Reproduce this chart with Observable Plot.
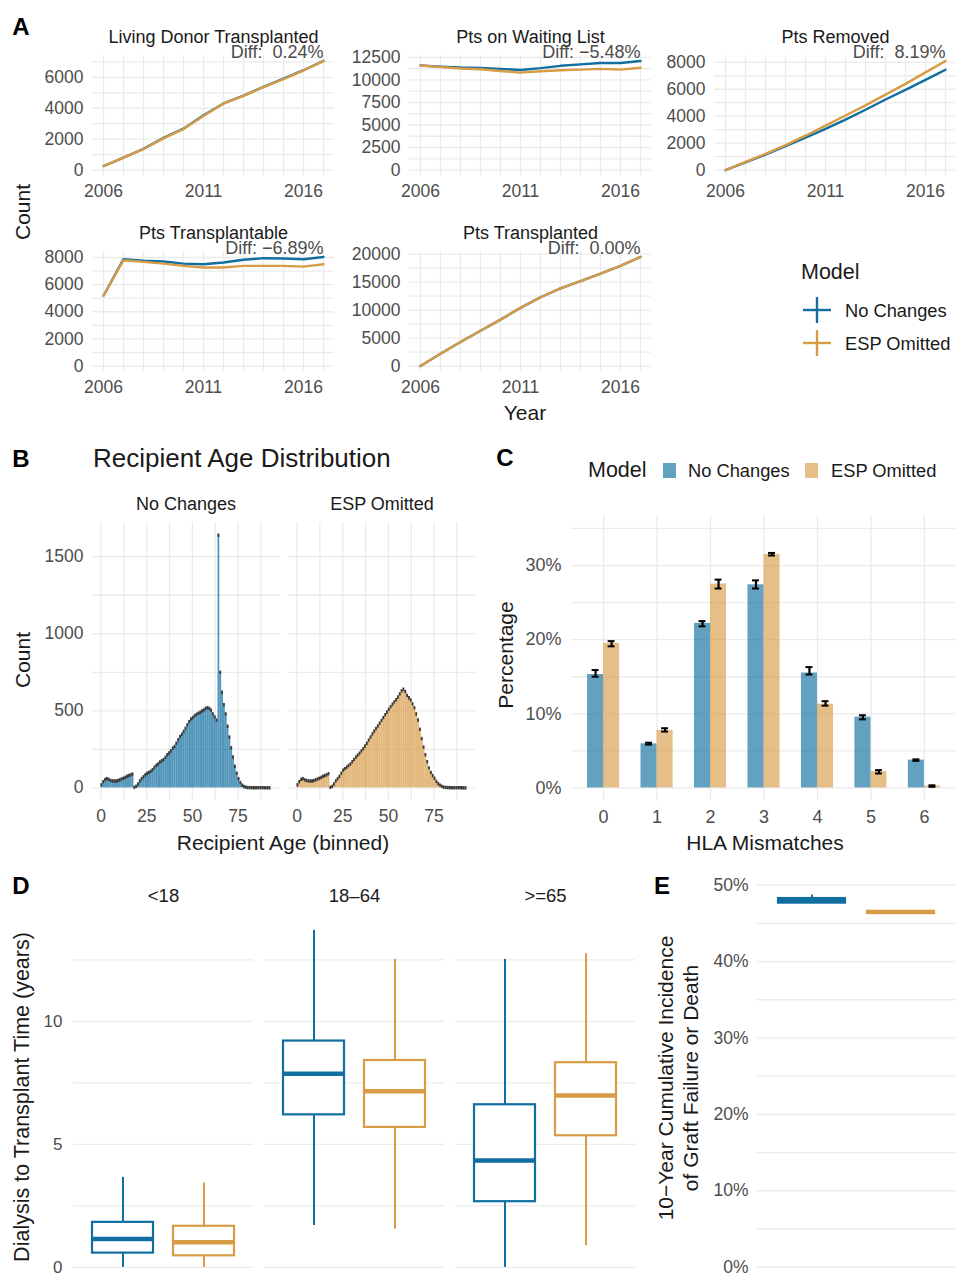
<!DOCTYPE html>
<html><head><meta charset="utf-8">
<script src="https://cdn.jsdelivr.net/npm/d3@7"></script>
<script src="https://cdn.jsdelivr.net/npm/@observablehq/plot@0.6"></script>
<style>
body{margin:0;background:#fff;}
#fig{position:relative;width:955px;height:1275px;overflow:hidden;background:#fff;}
</style></head><body><div id="fig"></div>
<script>
// ---------------- DATA ----------------
const models = ["No Changes", "ESP Omitted"];
const years = [2006, 2007, 2008, 2009, 2010, 2011, 2012, 2013, 2014, 2015, 2016, 2017];
const yearTicks = [2006, 2011, 2016];

const livingNoChanges = [260, 810, 1370, 2080, 2680, 3550, 4310, 4820, 5380, 5920, 6460, 7060];
const livingEspOmitted = [260, 810, 1360, 2050, 2650, 3500, 4300, 4800, 5370, 5890, 6440, 7050];
const waitNoChanges = [11600, 11480, 11380, 11340, 11230, 11110, 11310, 11570, 11730, 11880, 11880, 12110];
const waitEspOmitted = [11600, 11420, 11270, 11190, 11000, 10810, 10960, 11080, 11150, 11230, 11150, 11350];
const removedNoChanges = [0, 570, 1150, 1780, 2400, 3060, 3750, 4480, 5240, 5950, 6700, 7450];
const removedEspOmitted = [0, 600, 1200, 1850, 2550, 3300, 4050, 4800, 5600, 6400, 7250, 8100];
const transplantableNoChanges = [5180, 7880, 7760, 7700, 7550, 7500, 7630, 7830, 7950, 7930, 7870, 8040];
const transplantableEspOmitted = [5180, 7800, 7680, 7550, 7380, 7260, 7260, 7380, 7380, 7380, 7330, 7500];
const transplantedNoChanges = [0, 2200, 4300, 6300, 8300, 10400, 12300, 13900, 15200, 16500, 17900, 19500];
const transplantedEspOmitted = [0, 2200, 4300, 6300, 8300, 10400, 12300, 13900, 15200, 16500, 17900, 19500];

const panelTitles = ["Living Donor Transplanted", "Pts on Waiting List", "Pts Removed", "Pts Transplantable", "Pts Transplanted"];
const panelDiffs = ["Diff:  0.24%", "Diff: \u22125.48%", "Diff:  8.19%", "Diff: \u22126.89%", "Diff:  0.00%"];
const ticksLiving = [0, 2000, 4000, 6000];
const ticksWait = [0, 2500, 5000, 7500, 10000, 12500];
const ticksRemoved = [0, 2000, 4000, 6000, 8000];
const ticksTransplantable = [0, 2000, 4000, 6000, 8000];
const ticksTransplanted = [0, 5000, 10000, 15000, 20000];

// Panel B: recipient age histogram (1-year bins starting at age)
const ageBins = d3.range(0, 93);
const ageNoChanges = [20,40,55,60,55,48,45,45,45,48,52,58,62,68,75,80,85,90,3,10,25,45,60,72,85,95,100,108,118,133,146,155,168,176,183,198,215,226,240,258,269,290,312,333,348,366,387,409,430,447,456,469,477,484,490,499,505,516,520,516,505,480,460,440,1640,750,620,540,480,400,330,260,200,140,95,60,35,18,9,4,2,2,1,1,1,1,1,1,1,1,0,1,0];
const ageEspOmitted = [20,40,55,60,52,48,45,45,45,48,52,58,62,68,75,80,85,92,3,10,25,45,60,75,95,115,125,135,145,155,170,185,200,212,225,240,255,272,290,310,330,350,368,385,402,420,438,456,475,492,510,527,543,558,572,590,610,630,640,625,600,585,570,545,520,480,440,380,320,265,215,170,130,100,80,62,42,28,18,10,5,3,2,2,1,1,1,1,1,1,1,0,0];
const ageTicks = [0, 25, 50, 75];
const countTicks = [0, 500, 1000, 1500];

// Panel C: HLA mismatches (%)
const hlaCats = [0, 1, 2, 3, 4, 5, 6];
const hlaNoChanges = [15.3, 5.95, 22.2, 27.4, 15.5, 9.55, 3.75];
const hlaNoChangesLow = [15.0, 5.85, 21.8, 26.9, 15.3, 9.25, 3.65];
const hlaNoChangesHigh = [15.9, 6.1, 22.5, 28.0, 16.3, 9.8, 3.85];
const hlaEspOmitted = [19.5, 7.75, 27.5, 31.5, 11.3, 2.2, 0.25];
const hlaEspOmittedLow = [19.1, 7.6, 26.9, 31.35, 11.1, 1.95, 0.15];
const hlaEspOmittedHigh = [19.8, 8.05, 28.1, 31.7, 11.7, 2.4, 0.35];
const pctTicksC = [0, 10, 20, 30];

// Panel D: dialysis to transplant time boxplots (years)
const ageGroups = ["<18", "18\u201364", ">=65"];
const dNoLow = [0, 1.7, 0], dNoQ1 = [0.58, 6.2, 2.67], dNoMed = [1.15, 7.87, 4.34], dNoQ3 = [1.83, 9.2, 6.61], dNoHigh = [3.66, 13.7, 12.52];
const dEspLow = [0, 1.56, 0.88], dEspQ1 = [0.47, 5.69, 5.35], dEspMed = [1.02, 7.16, 6.99], dEspQ3 = [1.67, 8.41, 8.32], dEspHigh = [3.43, 12.52, 12.75];
const yearTicksD = [0, 5, 10];

// Panel E: 10-year cumulative incidence (%)
const eLow = [47.6, 46.25], eQ1 = [47.65, 46.28], eMed = [47.95, 46.43], eQ3 = [48.25, 46.58], eHigh = [48.7, 46.6];
const pctTicksE = [0, 10, 20, 30, 40, 50];

// ---------------- STYLE ----------------
const FONT = '"Liberation Sans", Arial, Helvetica, sans-serif';
const BLUE = "#106ea0", ORANGE = "#d89b46";
const GRID = "#ebebeb", TICK = "#4d4d4d", INK = "#1a1a1a";
const fig = document.getElementById("fig");
const baseStyle = (fs) => ({fontFamily: FONT, fontSize: fs + "px", color: TICK, background: "transparent", overflow: "visible"});
const expand = ([a, b], k = 0.05) => [a - (b - a) * k, b + (b - a) * k];
function place(svg, left, top) {
  svg.style.position = "absolute";
  svg.style.left = left + "px";
  svg.style.top = top + "px";
  svg.style.maxWidth = "none";
  fig.appendChild(svg);
}
const colorScale = {domain: models, range: [BLUE, ORANGE]};

// ---------------- PANEL A ----------------
const aSpecs = [
  {a: livingNoChanges, b: livingEspOmitted, ticks: ticksLiving, step: 1000, left: 92, top: 55},
  {a: waitNoChanges, b: waitEspOmitted, ticks: ticksWait, step: 1250, left: 409, top: 55},
  {a: removedNoChanges, b: removedEspOmitted, ticks: ticksRemoved, step: 1000, left: 714, top: 55},
  {a: transplantableNoChanges, b: transplantableEspOmitted, ticks: ticksTransplantable, step: 1000, left: 92, top: 251},
  {a: transplantedNoChanges, b: transplantedEspOmitted, ticks: ticksTransplanted, step: 2500, left: 409, top: 251},
];
aSpecs.forEach((p, k) => {
  const ML = 90, MR = 4, MT = 45, MB = 40, W = 242, H = 120;
  const rows = years.flatMap((yr, i) => [
    {year: yr, model: models[0], value: p.a[i]},
    {year: yr, model: models[1], value: p.b[i]}]);
  const max = d3.max(rows, d => d.value);
  const yDom = expand([0, max]);
  const grid = d3.range(0, yDom[1], p.step);
  const svg = Plot.plot({
    width: ML + W + MR, height: MT + H + MB,
    marginLeft: ML, marginRight: MR, marginTop: MT, marginBottom: MB,
    style: baseStyle(17.5),
    x: {domain: expand(d3.extent(years)), ticks: yearTicks, tickFormat: d3.format("d"), tickSize: 0, tickPadding: 9, label: null},
    y: {domain: yDom, ticks: p.ticks, tickFormat: d3.format("d"), tickSize: 0, tickPadding: 9, label: null},
    color: colorScale,
    marks: [
      Plot.ruleX(years, {stroke: GRID, strokeWidth: 1.3}),
      Plot.ruleY(grid, {stroke: GRID, strokeWidth: 1.3}),
      Plot.line(rows, {x: "year", y: "value", z: "model", stroke: "model", strokeWidth: 2.4}),
      Plot.text([panelTitles[k]], {frameAnchor: "top", dy: -25, fill: INK, fontSize: 18}),
      Plot.text([panelDiffs[k]], {x: () => years[years.length - 1], frameAnchor: "top", textAnchor: "end", dy: -10, fill: TICK, fontSize: 18})
    ]
  });
  place(svg, p.left - ML, p.top - MT);
});

// ---------------- PANEL B ----------------
{
  const ML = 80, MR = 0, MT = 45, MB = 40, W = 385, H = 278;
  const hist = [];
  ageBins.forEach((a, i) => {
    hist.push({age: a, model: models[0], count: ageNoChanges[i]});
    hist.push({age: a, model: models[1], count: ageEspOmitted[i]});
  });
  const maxC = d3.max(hist, d => d.count);
  const xDom = expand([0, 93]);
  const svg = Plot.plot({
    width: ML + W + MR, height: MT + H + MB,
    marginLeft: ML, marginRight: MR, marginTop: MT, marginBottom: MB,
    style: baseStyle(17.5),
    fx: {domain: models, paddingInner: 0.045, paddingOuter: 0, axis: "top", tickSize: 0, tickPadding: 13, label: null},
    x: {domain: xDom, ticks: ageTicks, tickSize: 0, tickPadding: 9, label: null},
    y: {domain: expand([0, maxC]), ticks: countTicks, tickFormat: d3.format("d"), tickSize: 0, tickPadding: 9, label: null},
    color: colorScale,
    marks: [
      Plot.ruleX(d3.range(0, 90, 12.5), {stroke: GRID, strokeWidth: 1.3}),
      Plot.ruleY(d3.range(0, 1501, 250), {stroke: GRID, strokeWidth: 1.3}),
      Plot.rect(hist, {fx: "model", x1: "age", x2: d => d.age + 1, y1: 0, y2: "count", fill: "model", fillOpacity: 0.72}),
      Plot.ruleY(hist, {fx: "model", y: "count", x1: "age", x2: d => d.age + 1, stroke: "#3a3a3a", strokeWidth: 3.4})
    ]
  });
  d3.select(svg).selectAll('[aria-label^="fx-axis"]').attr("fill", INK).style("font-size", "18px");
  place(svg, 90.5 - ML, 522 - MT);
}

// ---------------- PANEL C ----------------
{
  const ML = 80, MR = 0, MT = 20, MB = 40, W = 385, H = 285.4;
  const BW = 0.3;
  const rows = [];
  hlaCats.forEach((h, i) => {
    rows.push({hla: h, model: models[0], value: hlaNoChanges[i], lo: hlaNoChangesLow[i], hi: hlaNoChangesHigh[i]});
    rows.push({hla: h, model: models[1], value: hlaEspOmitted[i], lo: hlaEspOmittedLow[i], hi: hlaEspOmittedHigh[i]});
  });
  const isA = d => d.model === models[0];
  const cx = d => d.hla + (isA(d) ? -BW / 2 : BW / 2);
  const svg = Plot.plot({
    width: ML + W + MR, height: MT + H + MB,
    marginLeft: ML, marginRight: MR, marginTop: MT, marginBottom: MB,
    style: baseStyle(18),
    x: {domain: [-0.6, 6.6], ticks: hlaCats, tickFormat: d3.format("d"), tickSize: 0, tickPadding: 9, label: null},
    y: {domain: expand([0, 35]), ticks: pctTicksC, tickFormat: d => d + "%", tickSize: 0, tickPadding: 10, label: null},
    color: colorScale,
    marks: [
      Plot.ruleX(hlaCats, {stroke: GRID, strokeWidth: 1.3}),
      Plot.ruleY(d3.range(0, 36, 5), {stroke: GRID, strokeWidth: 1.3}),
      Plot.rect(rows, {x1: d => d.hla + (isA(d) ? -BW : 0), x2: d => d.hla + (isA(d) ? 0 : BW), y1: 0, y2: "value", fill: "model", fillOpacity: 0.65}),
      Plot.ruleX(rows, {x: cx, y1: "lo", y2: "hi", stroke: "black", strokeWidth: 2.2}),
      Plot.ruleY(rows, {y: "lo", x1: d => cx(d) - 0.065, x2: d => cx(d) + 0.065, stroke: "black", strokeWidth: 2}),
      Plot.ruleY(rows, {y: "hi", x1: d => cx(d) - 0.065, x2: d => cx(d) + 0.065, stroke: "black", strokeWidth: 2})
    ]
  });
  place(svg, 571 - ML, 514.6 - MT);
}

// ---------------- PANEL D ----------------
{
  const ML = 60, MR = 0, MT = 45, MB = 10;
  const rows = [];
  ageGroups.forEach((g, i) => {
    rows.push({age: g, model: models[0], lo: dNoLow[i], q1: dNoQ1[i], med: dNoMed[i], q3: dNoQ3[i], hi: dNoHigh[i]});
    rows.push({age: g, model: models[1], lo: dEspLow[i], q1: dEspQ1[i], med: dEspMed[i], q3: dEspQ3[i], hi: dEspHigh[i]});
  });
  const yDom = expand([0, d3.max(rows, d => d.hi)]);
  const pxPerUnit = 24.6;
  const H = (yDom[1] - yDom[0]) * pxPerUnit;
  const W = 563;
  const svg = Plot.plot({
    width: ML + W + MR, height: MT + H + MB,
    marginLeft: ML, marginRight: MR, marginTop: MT, marginBottom: MB,
    style: baseStyle(17),
    fx: {domain: ageGroups, paddingInner: 0.06, paddingOuter: 0, axis: "top", tickSize: 0, tickPadding: 11, label: null},
    x: {domain: models, paddingInner: 0.25, paddingOuter: 0.225, axis: null},
    y: {domain: yDom, ticks: yearTicksD, tickSize: 0, tickPadding: 11, label: null},
    color: colorScale,
    marks: [
      Plot.ruleY(d3.range(0, 13, 2.5), {stroke: GRID, strokeWidth: 1.3}),
      Plot.ruleX(rows, {fx: "age", x: "model", y1: "lo", y2: "q1", stroke: "model", strokeWidth: 2}),
      Plot.ruleX(rows, {fx: "age", x: "model", y1: "q3", y2: "hi", stroke: "model", strokeWidth: 2}),
      Plot.barY(rows, {fx: "age", x: "model", y1: "q1", y2: "q3", fill: "white", stroke: "model", strokeWidth: 2.2}),
      Plot.tickY(rows, {fx: "age", x: "model", y: "med", stroke: "model", strokeWidth: 4.5})
    ]
  });
  d3.select(svg).selectAll('[aria-label^="fx-axis"]').attr("fill", INK).style("font-size", "18.5px");
  const frameTop = 1267 - yDom[1] * pxPerUnit;
  place(svg, 72 - ML, frameTop - MT);
}

// ---------------- PANEL E ----------------
{
  const ML = 60, MR = 0, MT = 10, MB = 10, W = 198;
  const rows = models.map((m, i) => ({model: m, lo: eLow[i], q1: eQ1[i], med: eMed[i], q3: eQ3[i], hi: eHigh[i]}));
  const yDom = expand([0, d3.max(rows, d => d.hi)]);
  const pxPerUnit = 7.64;
  const H = (yDom[1] - yDom[0]) * pxPerUnit;
  const svg = Plot.plot({
    width: ML + W + MR, height: MT + H + MB,
    marginLeft: ML, marginRight: MR, marginTop: MT, marginBottom: MB,
    style: baseStyle(17.5),
    x: {domain: models, paddingInner: 0.25, paddingOuter: 0.225, axis: null},
    y: {domain: yDom, ticks: pctTicksE, tickFormat: d => d + "%", tickSize: 0, tickPadding: 9, label: null},
    color: colorScale,
    marks: [
      Plot.ruleY(d3.range(0, 51, 5), {stroke: GRID, strokeWidth: 1.3}),
      Plot.ruleX(rows, {x: "model", y1: "lo", y2: "hi", stroke: "model", strokeWidth: 2}),
      Plot.barY(rows, {x: "model", y1: "q1", y2: "q3", fill: "model", stroke: "model", strokeWidth: 2.2}),
      Plot.tickY(rows, {x: "model", y: "med", stroke: "model", strokeWidth: 3})
    ]
  });
  const frameTop = 1267 - yDom[1] * pxPerUnit;
  place(svg, 757 - ML, frameTop - MT);
}

// ---------------- ANNOTATIONS ----------------
const ov = d3.select(fig).append("svg").attr("width", 955).attr("height", 1275)
  .style("position", "absolute").style("left", 0).style("top", 0)
  .style("font-family", FONT).style("pointer-events", "none");
function txt(s, x, y, o = {}) {
  const t = ov.append("text").attr("x", x).attr("y", y).text(s)
    .attr("dominant-baseline", "central")
    .attr("text-anchor", o.anchor || "start")
    .attr("font-size", o.size || 18)
    .attr("font-weight", o.weight || "normal")
    .attr("fill", o.fill || INK);
  if (o.rotate) t.attr("transform", `rotate(${o.rotate} ${x} ${y})`);
  return t;
}
// panel letters
txt("A", 21, 26, {anchor: "middle", size: 24, weight: "bold", fill: "#000"});
txt("B", 21, 458, {anchor: "middle", size: 24, weight: "bold", fill: "#000"});
txt("C", 505, 457, {anchor: "middle", size: 24, weight: "bold", fill: "#000"});
txt("D", 21, 885, {anchor: "middle", size: 24, weight: "bold", fill: "#000"});
txt("E", 662, 885, {anchor: "middle", size: 24, weight: "bold", fill: "#000"});
// A
txt("Count", 22, 212, {anchor: "middle", size: 21, rotate: -90});
txt("Year", 525, 412, {anchor: "middle", size: 21});
txt("Model", 801, 272, {size: 21.5});
[[models[0], BLUE, 310], [models[1], ORANGE, 343]].forEach(([m, c, y]) => {
  ov.append("line").attr("x1", 803).attr("x2", 831).attr("y1", y).attr("y2", y).attr("stroke", c).attr("stroke-width", 2.4);
  ov.append("line").attr("x1", 817).attr("x2", 817).attr("y1", y - 13).attr("y2", y + 13).attr("stroke", c).attr("stroke-width", 2.4);
  txt(m, 845, y, {size: 18.3});
});
// B
txt("Recipient Age Distribution", 93, 458, {size: 26});
txt("Count", 22, 660, {anchor: "middle", size: 21, rotate: -90});
txt("Recipient Age (binned)", 283, 842, {anchor: "middle", size: 21});
// C
txt("Model", 588, 470, {size: 21.5});
ov.append("rect").attr("x", 663).attr("y", 463).attr("width", 13).attr("height", 15).attr("fill", BLUE).attr("fill-opacity", 0.65);
txt(models[0], 688, 470, {size: 18.3});
ov.append("rect").attr("x", 805).attr("y", 463).attr("width", 13).attr("height", 15).attr("fill", ORANGE).attr("fill-opacity", 0.65);
txt(models[1], 831, 470, {size: 18.3});
txt("Percentage", 505, 655, {anchor: "middle", size: 21, rotate: -90});
txt("HLA Mismatches", 765, 842, {anchor: "middle", size: 21});
// D
txt("Dialysis to Transplant Time (years)", 22, 1097, {anchor: "middle", size: 21.5, rotate: -90});
// E
txt("10\u2212Year Cumulative Incidence", 665, 1078, {anchor: "middle", size: 21, rotate: -90});
txt("of Graft Failure or Death", 690, 1078, {anchor: "middle", size: 21, rotate: -90});
</script>
</body></html>
